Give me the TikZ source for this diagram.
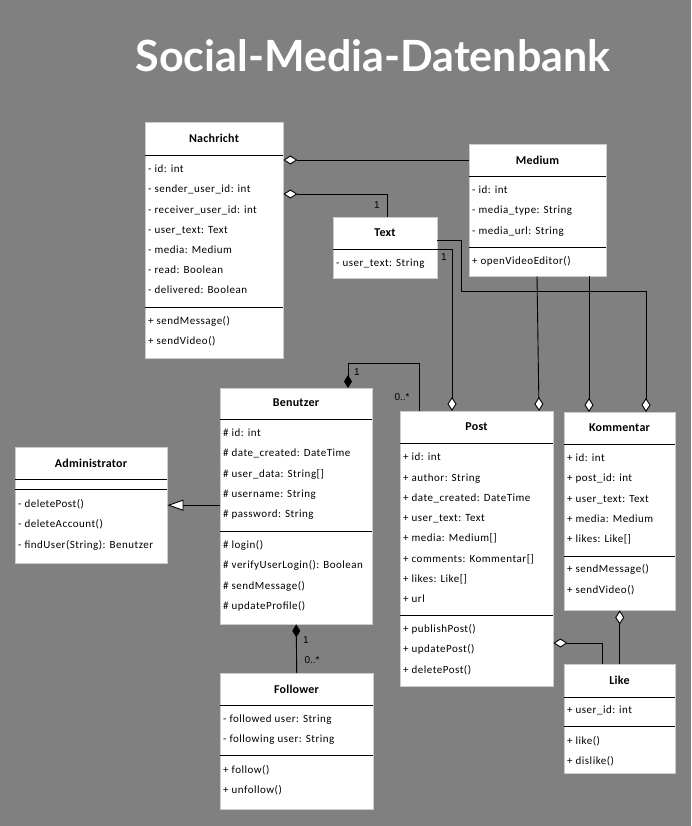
\documentclass[tikz,border=0pt]{standalone}
\usepackage{fontspec}
\setmainfont[LetterSpace=4.5]{Carlito}
\newfontfamily\namefont[LetterSpace=2]{Carlito}
\newfontfamily\titlefont{Lato}
\newfontfamily\labelfont{Liberation Sans}
\usetikzlibrary{positioning,calc,arrows.meta}
\definecolor{bggray}{HTML}{808080}
\tikzset{classbox/.style={draw=black!20,fill=white,anchor=north west,inner sep=0pt}}
\tikzset{classname/.style={font=\namefont\fontsize{12}{14}\selectfont\bfseries,inner sep=0pt}}
\tikzset{member/.style={anchor=west,inner sep=0pt,text height=7.5pt,text depth=2pt,font=\fontsize{11}{13}\selectfont}}
\tikzset{sep/.style={draw,line width=0.9pt}}
\tikzset{mult/.style={font=\labelfont\fontsize{10}{12}\selectfont,inner sep=0pt}}
\tikzset{agg/.style={draw,line width=0.9pt,{Diamond[fill=white,length=14pt,width=9pt]}-}}
\tikzset{comp/.style={draw,line width=0.9pt,{Diamond[length=13pt,width=8pt]}-}}
\tikzset{gen/.style={draw,line width=0.9pt,-{Triangle[fill=white,length=16pt,width=11pt]}}}

\begin{document}
\begin{tikzpicture}[x=1pt,y=-1pt]
    \fill[bggray] (0,0) rectangle (691,826);
    \useasboundingbox (0,0) rectangle (691,826);
    \node[font=\titlefont\bfseries\fontsize{43}{50}\selectfont,text=white,anchor=base,inner sep=0pt] (title) at (373,72) {Social-Media-Datenbank};

    % Nachricht
    \node[classbox,minimum width=138pt,minimum height=236pt] (nachricht) at (145,122) {};
    \node[classname] (nachricht-name) at (214,138) {Nachricht};
    \draw[sep] (nachricht.north west) ++(0,33) -- ++(138,0);
    \draw[sep] (nachricht.north west) ++(0,185) -- ++(138,0);
    \foreach \txt [count=\i] in {- id: int,- sender\_user\_id: int,- receiver\_user\_id: int,- user\_text: Text,- media: Medium,- read: Boolean,- delivered: Boolean}
        \node[member] (nachricht-a\i) at (148,{170+20.2*(\i-1)}) {\txt};
    \foreach \txt [count=\i] in {+ sendMessage(),+ sendVideo()}
        \node[member] (nachricht-m\i) at (148,{322+20.2*(\i-1)}) {\txt};

    % Medium
    \node[classbox,minimum width=137pt,minimum height=132pt] (medium) at (469,144) {};
    \node[classname] (medium-name) at (537.5,160) {Medium};
    \draw[sep] (medium.north west) ++(0,32) -- ++(137,0);
    \draw[sep] (medium.north west) ++(0,103) -- ++(137,0);
    \foreach \txt [count=\i] in {- id: int,- media\_type: String,- media\_url: String}
        \node[member] (medium-a\i) at (472,{191+20.2*(\i-1)}) {\txt};
    \node[member] (medium-m1) at (472,262) {+ openVideoEditor()};

    % Text
    \node[classbox,minimum width=104pt,minimum height=61pt] (text) at (333,217) {};
    \node[classname] (text-name) at (385,233) {Text};
    \draw[sep] (text.north west) ++(0,32) -- ++(104,0);
    \node[member] (text-a1) at (336,264) {- user\_text: String};

    % Benutzer
    \node[classbox,minimum width=152pt,minimum height=236pt] (benutzer) at (220,388) {};
    \node[classname] (benutzer-name) at (296,403) {Benutzer};
    \draw[sep] (benutzer.north west) ++(0,31) -- ++(152,0);
    \draw[sep] (benutzer.north west) ++(0,143) -- ++(152,0);
    \foreach \txt [count=\i] in {\# id: int,\# date\_created: DateTime,\# user\_data: String[],\# username: String,\# password: String}
        \node[member] (benutzer-a\i) at (223,{434+20.2*(\i-1)}) {\txt};
    \foreach \txt [count=\i] in {\# login(),\# verifyUserLogin(): Boolean,\# sendMessage(),\# updateProfile()}
        \node[member] (benutzer-m\i) at (223,{546+20.2*(\i-1)}) {\txt};

    % Administrator
    \node[classbox,minimum width=152pt,minimum height=116pt] (administrator) at (15,447) {};
    \node[classname] (administrator-name) at (91,463) {Administrator};
    \draw[sep] (administrator.north west) ++(0,32) -- ++(152,0);
    \draw[sep] (administrator.north west) ++(0,42) -- ++(152,0);
    \foreach \txt [count=\i] in {- deletePost(),- deleteAccount(),- findUser(String): Benutzer}
        \node[member] (administrator-m\i) at (18,{505+20.2*(\i-1)}) {\txt};

    % Post
    \node[classbox,minimum width=153pt,minimum height=275pt] (post) at (400,411) {};
    \node[classname] (post-name) at (476.5,427) {Post};
    \draw[sep] (post.north west) ++(0,32) -- ++(153,0);
    \draw[sep] (post.north west) ++(0,204) -- ++(153,0);
    \foreach \txt [count=\i] in {+ id: int,+ author: String,+ date\_created: DateTime,+ user\_text: Text,+ media: Medium[],+ comments: Kommentar[],+ likes: Like[],+ url}
        \node[member] (post-a\i) at (403,{458+20.3*(\i-1)}) {\txt};
    \foreach \txt [count=\i] in {+ publishPost(),+ updatePost(),+ deletePost()}
        \node[member] (post-m\i) at (403,{630+20.2*(\i-1)}) {\txt};

    % Kommentar
    \node[classbox,minimum width=111pt,minimum height=198pt] (kommentar) at (564,412) {};
    \node[classname] (kommentar-name) at (619.5,428) {Kommentar};
    \draw[sep] (kommentar.north west) ++(0,32) -- ++(111,0);
    \draw[sep] (kommentar.north west) ++(0,144) -- ++(111,0);
    \foreach \txt [count=\i] in {+ id: int,+ post\_id: int,+ user\_text: Text,+ media: Medium,+ likes: Like[]}
        \node[member] (kommentar-a\i) at (567,{459+20.2*(\i-1)}) {\txt};
    \foreach \txt [count=\i] in {+ sendMessage(),+ sendVideo()}
        \node[member] (kommentar-m\i) at (567,{570+20.5*(\i-1)}) {\txt};

    % Follower
    \node[classbox,minimum width=153pt,minimum height=136pt] (follower) at (220,673) {};
    \node[classname] (follower-name) at (296.5,689) {Follower};
    \draw[sep] (follower.north west) ++(0,32) -- ++(153,0);
    \draw[sep] (follower.north west) ++(0,82) -- ++(153,0);
    \foreach \txt [count=\i] in {- followed user: String,- following user: String}
        \node[member] (follower-a\i) at (223,{720+20.2*(\i-1)}) {\txt};
    \foreach \txt [count=\i] in {+ follow(),+ unfollow()}
        \node[member] (follower-m\i) at (223,{771+20.2*(\i-1)}) {\txt};

    % Like
    \node[classbox,minimum width=111pt,minimum height=109pt] (like) at (564,664) {};
    \node[classname] (like-name) at (619.5,680) {Like};
    \draw[sep] (like.north west) ++(0,33) -- ++(111,0);
    \draw[sep] (like.north west) ++(0,62) -- ++(111,0);
    \node[member] (like-a1) at (567,711) {+ user\_id: int};
    \foreach \txt [count=\i] in {+ like(),+ dislike()}
        \node[member] (like-m\i) at (567,{742+20.2*(\i-1)}) {\txt};

    % connectors
    \draw[agg] (nachricht.east |- medium-name) -- (medium.west |- medium-name);
    \draw[agg] ($(nachricht.north east)+(0,72)$) -| ($(text.north west)+(54,0)$);
    \node[mult] (m-text1) at (377,205) {1};
    \draw[agg] ($(post.north west)+(52,0)$) |- ($(text.north east)+(0,32)$);
    \node[mult] (m-text2) at (444,257) {1};
    \coordinate (bend) at (461,291);
    \draw[agg] ($(kommentar.north west)+(82,0)$) |- (bend) |- ($(text.north east)+(0,23)$);
    \draw[agg] ($(post.north west)+(139,0)$) -- ($(medium.south west)+(68,0)$);
    \coordinate (kmed) at ($(kommentar.north west)+(25,0)$);
    \draw[agg] (kmed) -- (kmed |- medium.south);
    \draw[comp] ($(benutzer.north west)+(128,0)$) -- ++(0,-25) -| ($(post.north west)+(19,0)$);
    \node[mult] (m-post1) at (357,372) {1};
    \node[mult] (m-post2) at (402,397) {0..*};
    \draw[gen] (benutzer.west |- administrator.east) -- (administrator.east);
    \draw[comp] (benutzer.south) -- (follower.north);
    \node[mult] (m-fol1) at (306,640) {1};
    \node[mult] (m-fol2) at (312,660) {0..*};
    \draw[agg] ($(post.north east)+(0,232)$) -| ($(like.north west)+(38,0)$);
    \draw[agg] (kommentar.south) -- (like.north);
\end{tikzpicture}
\end{document}
